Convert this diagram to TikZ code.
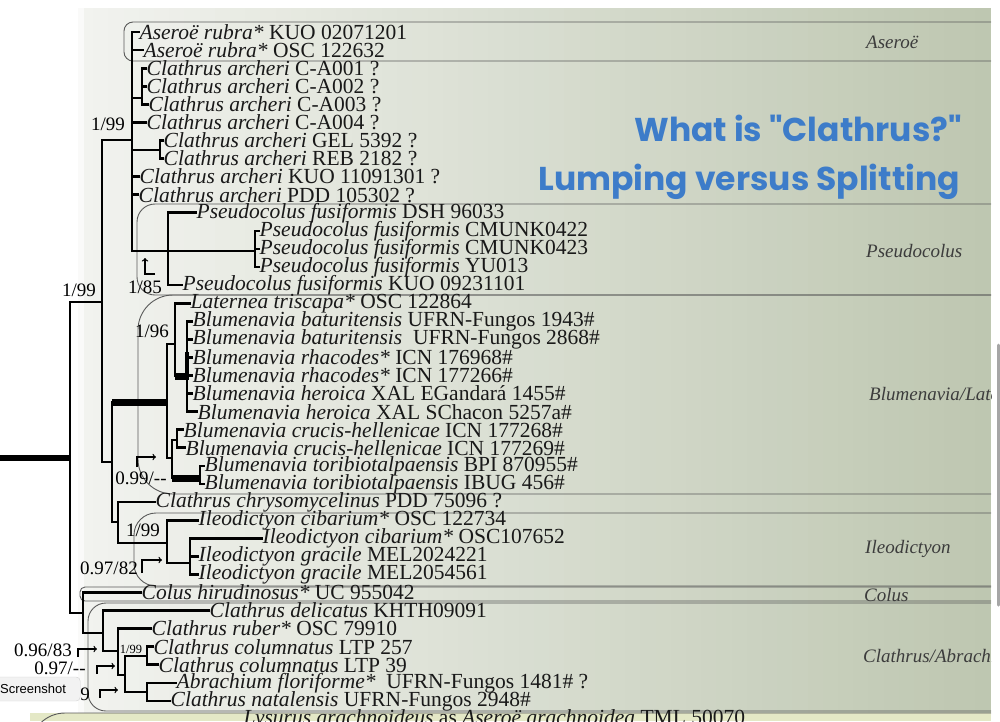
\documentclass[tikz,border=0pt]{standalone}
\usepackage{fontspec}
\setmainfont{Liberation Serif}
\newfontfamily\titlefont{Poppins}
\newfontfamily\uifont{Liberation Sans}
\usetikzlibrary{arrows}

\definecolor{titleblue}{HTML}{3D7CC9}
\definecolor{panelL}{HTML}{F2F3EF}
\definecolor{panelR}{HTML}{BEC7B1}
\definecolor{boxline}{HTML}{5A5A5A}
\definecolor{cladegray}{HTML}{3C3C3C}
\definecolor{lowband}{HTML}{E4E8C6}

\newcommand\taxon[2]{\textit{#1} #2}

\tikzset{
  tip/.style={anchor=west, inner sep=0.5pt, text=black!90,
    font=\fontsize{21.5}{20}\selectfont},
  br/.style={line width=2.7pt, line cap=rect},
  fat/.style={line width=7pt},
  cladebox/.style={draw=boxline, line width=0.9pt},
  clade/.style={anchor=west, inner sep=0pt, text=cladegray,
    font=\fontsize{19}{19}\selectfont\itshape},
  supp/.style={inner sep=0pt, font=\fontsize{19}{19}\selectfont},
  pointer/.style={->, line width=1.3pt}
}

\begin{document}
\begin{tikzpicture}[x=1pt,y=-1pt]
\useasboundingbox (0,0) rectangle (1000,721);
\clip (0,0) rectangle (1000,721);

% background panel
\foreach \i in {0,...,59}{
  \pgfmathsetmacro\xl{78+\i*15.2}
  \pgfmathsetmacro\pc{100*\i/59}
  \fill[panelR!\pc!panelL] (\xl,8) rectangle ({min(\xl+16,991)},721);
}
\fill[white!60!panelL] (78,8) rectangle (84,721);
\fill[lowband] (30,713) rectangle (991,721);
\draw[gray!70, line width=3pt, line cap=round] (998,345) -- (998,605);

% clade boxes
\draw[cladebox, rounded corners=9pt] (991,22) -- (124,22) -- (124,61) -- (991,61);
\draw[cladebox, rounded corners=18pt] (991,204) -- (137,204) -- (137,295) -- (991,295);
\draw[cladebox, rounded corners=35pt] (991,295) -- (138,295) -- (138,494) -- (991,494);
\draw[cladebox, rounded corners=22pt] (991,513) -- (134,513) -- (134,586) -- (991,586);
\draw[cladebox, rounded corners=5pt] (991,587) -- (80,587) -- (80,601) -- (991,601);
\draw[cladebox, rounded corners=18pt] (991,603) -- (88,603) -- (88,711) -- (991,711);
\draw[cladebox, rounded corners=35pt] (991,713) -- (30,713) -- (30,780);

% tips
\node[tip] (t1) at (139,32.0) {\taxon{Aseroë rubra*}{KUO 02071201}};
\node[tip] (t2) at (143,50.1) {\taxon{Aseroë rubra*}{OSC 122632}};
\node[tip] (t3) at (146,68.2) {\taxon{Clathrus archeri}{C-A001 ?}};
\node[tip] (t4) at (146,86.2) {\taxon{Clathrus archeri}{C-A002 ?}};
\node[tip] (t5) at (148,104.3) {\taxon{Clathrus archeri}{C-A003 ?}};
\node[tip] (t6) at (146,122.4) {\taxon{Clathrus archeri}{C-A004 ?}};
\node[tip] (t7) at (163,140.5) {\taxon{Clathrus archeri}{GEL 5392 ?}};
\node[tip] (t8) at (163,158.6) {\taxon{Clathrus archeri}{REB 2182 ?}};
\node[tip] (t9) at (139,176.6) {\taxon{Clathrus archeri}{KUO 11091301 ?}};
\node[tip] (t10) at (138,194.7) {\taxon{Clathrus archeri}{PDD 105302 ?}};
\node[tip] (t11) at (196,212.8) {\taxon{Pseudocolus fusiformis}{DSH 96033}};
\node[tip] (t12) at (259,230.9) {\taxon{Pseudocolus fusiformis}{CMUNK0422}};
\node[tip] (t13) at (259,249.0) {\taxon{Pseudocolus fusiformis}{CMUNK0423}};
\node[tip] (t14) at (259,267.0) {\taxon{Pseudocolus fusiformis}{YU013}};
\node[tip] (t15) at (182,285.1) {\taxon{Pseudocolus fusiformis}{KUO 09231101}};
\node[tip] (t16) at (190,303.2) {\taxon{Laternea triscapa*}{OSC 122864}};
\node[tip] (t17) at (192,321.3) {\taxon{Blumenavia baturitensis}{UFRN-Fungos 1943\#}};
\node[tip] (t18) at (192,339.4) {\taxon{Blumenavia baturitensis}{\ UFRN-Fungos 2868\#}};
\node[tip] (t19) at (192,357.4) {\taxon{Blumenavia rhacodes*}{ICN 176968\#}};
\node[tip] (t20) at (192,375.5) {\taxon{Blumenavia rhacodes*}{ICN 177266\#}};
\node[tip] (t21) at (192,393.6) {\taxon{Blumenavia heroica}{XAL EGandará 1455\#}};
\node[tip] (t22) at (197,411.7) {\taxon{Blumenavia heroica}{XAL SChacon 5257a\#}};
\node[tip] (t23) at (183,429.8) {\taxon{Blumenavia crucis-hellenicae}{ICN 177268\#}};
\node[tip] (t24) at (185,447.8) {\taxon{Blumenavia crucis-hellenicae}{ICN 177269\#}};
\node[tip] (t25) at (204,465.9) {\taxon{Blumenavia toribiotalpaensis}{BPI 870955\#}};
\node[tip] (t26) at (204,484.0) {\taxon{Blumenavia toribiotalpaensis}{IBUG 456\#}};
\node[tip] (t27) at (155,502.1) {\taxon{Clathrus chrysomycelinus}{PDD 75096 ?}};
\node[tip] (t28) at (198,520.2) {\taxon{Ileodictyon cibarium*}{OSC 122734}};
\node[tip] (t29) at (262,538.2) {\taxon{Ileodictyon cibarium*}{OSC107652}};
\node[tip] (t30) at (198,556.3) {\taxon{Ileodictyon gracile}{MEL2024221}};
\node[tip] (t31) at (198,574.4) {\taxon{Ileodictyon gracile}{MEL2054561}};
\node[tip] (t32) at (141,592.5) {\taxon{Colus hirudinosus*}{UC 955042}};
\node[tip] (t33) at (209,610.6) {\taxon{Clathrus delicatus}{KHTH09091}};
\node[tip] (t34) at (151,628.6) {\taxon{Clathrus ruber*}{OSC 79910}};
\node[tip] (t35) at (153,646.7) {\taxon{Clathrus columnatus}{LTP 257}};
\node[tip] (t36) at (158,664.8) {\taxon{Clathrus columnatus}{LTP 39}};
\node[tip] (t37) at (176,682.9) {\taxon{Abrachium floriforme*}{\ UFRN-Fungos 1481\# ?}};
\node[tip] (t38) at (170,701.0) {\taxon{Clathrus natalensis}{UFRN-Fungos 2948\#}};
\node[tip] (t39) at (243,719.0) {\textit{Lysurus arachnoideus} as \textit{Aseroë arachnoidea} TML 50070};

% internal nodes
\coordinate (root) at (0,458);
\coordinate (nA) at (70,458);
\coordinate (nB) at (102,302);
\coordinate (nC) at (132,140);
\coordinate (nCA) at (142,98);
\coordinate (nGR) at (160,150);
\coordinate (nP) at (168,251);
\coordinate (nPP) at (255,251);
\coordinate (nD) at (112,462);
\coordinate (nE) at (167,402);
\coordinate (nE1) at (175,344);
\coordinate (nE2) at (187,376);
\coordinate (nE3) at (172,458);
\coordinate (nCr) at (177,440);
\coordinate (nTo) at (200,478);
\coordinate (nF) at (118,522);
\coordinate (nG) at (167,543);
\coordinate (nH) at (190,563);
\coordinate (nJ) at (83,613);
\coordinate (nM) at (103,633);
\coordinate (nN) at (118,651);
\coordinate (nO) at (125,675);
\coordinate (nK) at (147,656);
\coordinate (nL) at (147,692);

% branches
\draw[line width=6pt] (root) -- (nA);
\foreach \p/\c in {nA/nB, nB/nC, nC/nCA, nC/nGR, nC/nP, nB/nD, nD/nE, nE/nE1,
  nE1/nE2, nE/nE3, nE3/nCr, nE3/nTo, nD/nF, nF/nG, nG/nH, nA/nJ, nJ/nM,
  nM/nN, nN/nO, nO/nK, nO/nL}
  \draw[br] (\p) |- (\c);
\draw[br] (nP) -- (nPP);
\foreach \p/\c in {nC/1, nC/2, nCA/3, nCA/4, nCA/5, nC/6, nGR/7, nGR/8, nC/9,
  nC/10, nP/11, nPP/12, nPP/13, nPP/14, nP/15, nE1/16, nE2/17, nE2/18, nE2/19,
  nE2/20, nE2/21, nE2/22, nCr/23, nCr/24, nTo/25, nTo/26, nF/27, nG/28, nH/29,
  nH/30, nH/31, nJ/32, nM/33, nN/34, nK/35, nK/36, nL/37, nL/38}
  \draw[br] (\p) |- (t\c.west);
\draw[fat] (nD |- nE) -- (nE);
\draw[fat] (nE1 |- nE2) -- (nE2);
\draw[fat] (nE3 |- nTo) -- (nTo);
\draw[line width=4.5pt] (nE2) ++(0,-24) -- ++(0,28);

% support values
\node[supp] (s1) at (108,124) {1/99};
\node[supp] (s2) at (79,290) {1/99};
\node[supp] (s3) at (145,287) {1/85};
\node[supp] (s4) at (152,331) {1/96};
\node[supp] (s5) at (141,478) {0.99/{-}{-}};
\node[supp] (s6) at (143,530) {1/99};
\node[supp] (s7) at (109,568) {0.97/82};
\node[supp] (s8) at (43,650) {0.96/83};
\node[supp] (s9) at (60,668) {0.97/{-}{-}};
\node[supp, font=\fontsize{12.5}{12}\selectfont] (s10) at (131,649) {1/99};
\node[supp, anchor=east] (s11) at (90,694) {1/99};
\draw[pointer] (155,274) -| (145,258);
\draw[pointer] (137,467) |- (156,457);
\draw[pointer] (142,573) |- (162,560);
\draw[pointer] (78,657) |- (97,649);
\draw[pointer] (97,674) |- (115,666);
\draw[pointer] (100,698) |- (118,690);

% clade names
\begin{scope}
\clip (0,0) rectangle (991,721);
\node[clade] (cAser) at (866,42) {Aseroë};
\node[clade] (cPseu) at (866,251) {Pseudocolus};
\node[clade] (cBlum) at (869,394) {Blumenavia/Laternea};
\node[clade] (cIleo) at (865,549) {Ileodictyon};
\node[clade] (cColu) at (864,595) {Colus};
\node[clade] (cClat) at (863,656) {Clathrus/Abrachium};
\end{scope}

% title
\node[anchor=base east, inner sep=0pt, text=titleblue,
  font=\titlefont\bfseries\fontsize{33}{33}\selectfont] (title1) at (962,141) {What is "Clathrus?"};
\node[anchor=base east, inner sep=0pt, text=titleblue,
  font=\titlefont\bfseries\fontsize{33}{33}\selectfont] (title2) at (960,190) {Lumping versus Splitting};

% screenshot tooltip
\node[anchor=west, draw=gray!35, fill=gray!10, rounded corners=4pt,
  text width=74pt, minimum height=24pt, inner xsep=6pt, inner ysep=0pt,
  font=\uifont\fontsize{13}{13}\selectfont] (shot) at (-6,689) {Screenshot};
\end{tikzpicture}
\end{document}
